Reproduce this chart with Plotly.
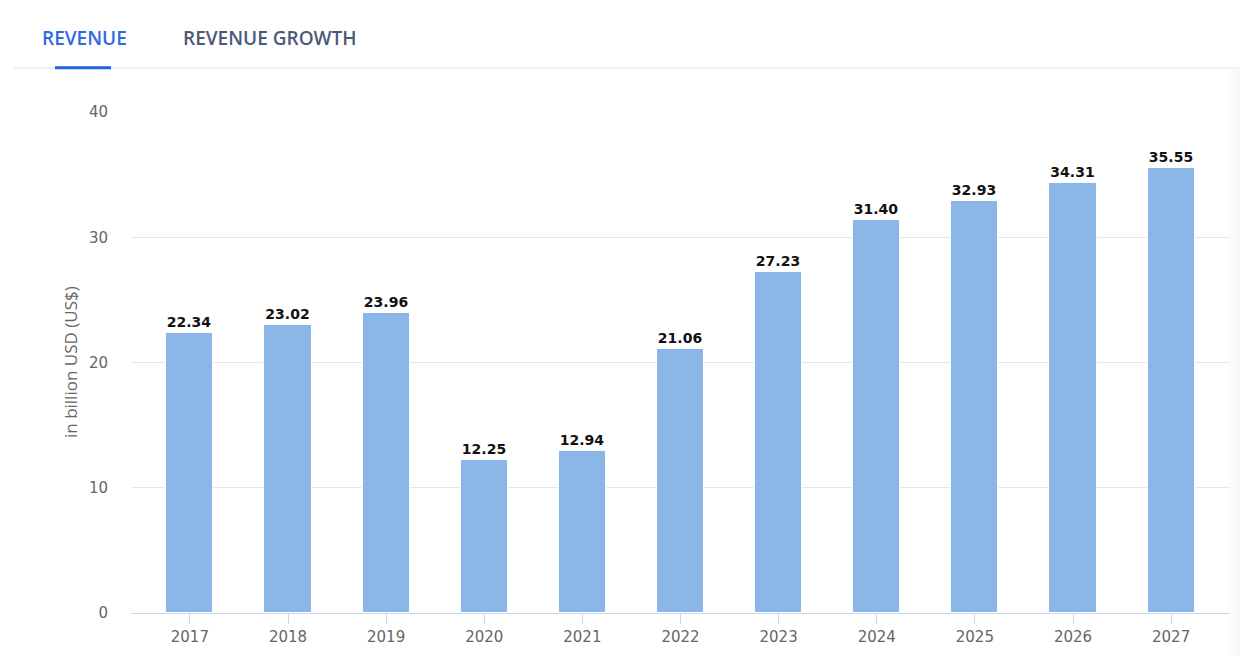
import plotly.graph_objects as go

years = ["2017", "2018", "2019", "2020", "2021", "2022", "2023", "2024", "2025", "2026", "2027"]
revenue = [22.34, 23.02, 23.96, 12.25, 12.94, 21.06, 27.23, 31.40, 32.93, 34.31, 35.55]
y_ticks = [0, 10, 20, 30, 40]
tabs = ["REVENUE", "REVENUE GROWTH"]
y_title = "in billion USD (US$)"

OFF = 8  # page body margin
W, H = 1248 - OFF, 658 - OFF
L, R, T, B = 131 - OFF, 18, 112 - OFF, 43
PW, PH = W - L - R, H - T - B

def px(x):
    return (x - OFF - L) / PW

def py(y):
    return (H - B - (y - OFF)) / PH

fig = go.Figure()
fig.add_trace(go.Bar(
    x=list(range(len(years))),
    y=revenue,
    width=0.48,
    marker=dict(color="#8ab7e7", line=dict(color="#ffffff", width=1)),
    text=[f"{v:.2f}" for v in revenue],
    textposition="outside",
    textfont=dict(family="DejaVu Sans", size=14, color="#111111", weight="bold"),
    cliponaxis=False,
    hoverinfo="skip",
))

fig.update_layout(
    width=W, height=H,
    margin=dict(l=L, r=R, t=T, b=B, pad=0),
    plot_bgcolor="white", paper_bgcolor="white",
    showlegend=False,
    bargap=0,
    xaxis=dict(
        range=[-0.6, len(years) - 0.4],
        tickmode="array",
        tickvals=list(range(len(years))),
        ticktext=years,
        showgrid=False,
        showline=True, linecolor="#ccd6eb", linewidth=1,
        ticks="outside", ticklen=10, tickcolor="#ccd6eb", tickwidth=1,
        tickfont=dict(family="DejaVu Sans", size=15, color="#666666"),
        zeroline=False,
    ),
    yaxis=dict(
        range=[0, 40],
        tickmode="array",
        tickvals=y_ticks,
        showgrid=True, gridcolor="#e6e6e6", gridwidth=1,
        zeroline=False,
        showline=False,
        ticks="",
        ticklabelstandoff=22,
        tickfont=dict(family="DejaVu Sans", size=15, color="#666666"),
    ),
)

# y-axis title
fig.add_annotation(
    x=px(70), y=py(363), xref="paper", yref="paper",
    text=y_title, textangle=-90, showarrow=False,
    font=dict(family="Open Sans", size=17, color="#666666"),
    xanchor="center", yanchor="middle",
)

# tabs
fig.add_annotation(
    x=px(84), y=py(38), xref="paper", yref="paper",
    text=tabs[0], showarrow=False,
    font=dict(family="Open Sans", size=19, color="#2f6ae0", weight=600),
    xanchor="center", yanchor="middle",
)
fig.add_annotation(
    x=px(270), y=py(38), xref="paper", yref="paper",
    text=tabs[1], showarrow=False,
    font=dict(family="Open Sans", size=19, color="#4a5a78", weight=600),
    xanchor="center", yanchor="middle",
)

# tab separator and active underline
fig.add_shape(type="line", xref="paper", yref="paper",
              x0=px(14), x1=px(1248), y0=py(67.5), y1=py(67.5),
              line=dict(color="#eef1f6", width=2))
fig.add_shape(type="line", xref="paper", yref="paper",
              x0=px(55), x1=px(111), y0=py(67.5), y1=py(67.5),
              line=dict(color="#1f5fe0", width=3))

# subtle right-edge shadow
for i, a in enumerate([0.15, 0.3, 0.45, 0.6]):
    x0 = 1228 + i * 5
    fig.add_shape(type="rect", xref="paper", yref="paper",
                  x0=px(x0), x1=px(1248), y0=py(658), y1=py(69),
                  fillcolor=f"rgba(240,242,246,{a})", line=dict(width=0), layer="below")

fig.write_html("out.html")
